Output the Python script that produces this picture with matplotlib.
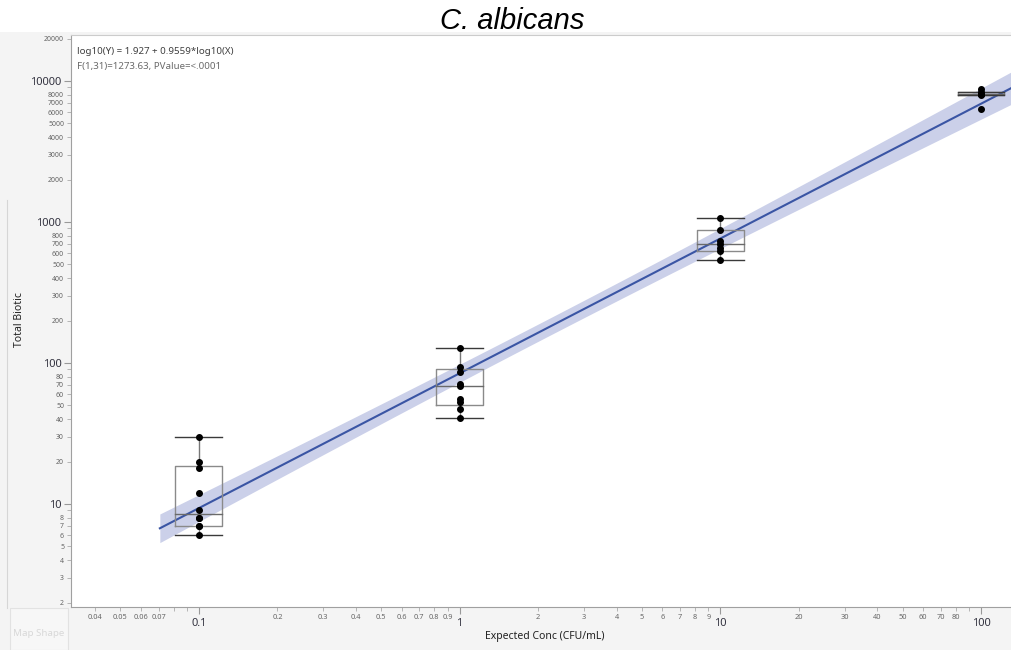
import numpy as np
import matplotlib.pyplot as plt
from matplotlib.ticker import FixedLocator, FuncFormatter
from matplotlib.patches import Rectangle
from matplotlib.lines import Line2D

plt.rcParams['font.family'] = ['Noto Sans', 'DejaVu Sans']

# values
conc = [0.1, 1, 10, 100]
biotic_01 = [6, 7, 7, 8, 8, 9, 12, 18, 20, 30]
biotic_1 = [41, 47, 53, 56, 69, 71, 87, 93, 128]
biotic_10 = [537, 626, 651, 700, 737, 877, 1062]
biotic_100 = [6330, 8000, 8050, 8100, 8150, 8300, 8770]
groups = [biotic_01, biotic_1, biotic_10, biotic_100]

# fit shown in the chart
intercept = 1.927
slope = 0.9559
f_value = 1273.63
t_crit = 2.04
fit_from = 0.0708

x_major = [0.1, 1, 10, 100]
x_minor_lab = [0.04, 0.05, 0.06, 0.07, 0.2, 0.3, 0.4, 0.5, 0.6, 0.7, 0.8, 0.9,
               2, 3, 4, 5, 6, 7, 8, 9, 20, 30, 40, 50, 60, 70, 80]
x_minor_nolab = [0.08, 0.09, 90]
y_major = [10, 100, 1000, 10000]
y_minor_lab = [2, 3, 4, 5, 6, 7, 8, 20, 30, 40, 50, 60, 70, 80,
               200, 300, 400, 500, 600, 700, 800,
               2000, 3000, 4000, 5000, 6000, 7000, 8000, 20000]
y_minor_nolab = [9, 90, 900, 9000]

W, H = 1012, 650
fig = plt.figure(figsize=(W / 100, H / 100), dpi=100, facecolor='#f4f4f4')
fig.patches.append(Rectangle((0, 1 - 32 / H), 1, 32 / H, transform=fig.transFigure,
                             facecolor='white', edgecolor='none', zorder=0))
fig.patches.append(Rectangle((10 / W, 0), 58 / W, 42 / H, transform=fig.transFigure,
                             facecolor='#f7f7f7', edgecolor='#e2e2e2', lw=0.8))
fig.lines.append(Line2D([7 / W, 7 / W], [1 - 200 / H, 1 - 608 / H],
                        transform=fig.transFigure, color='#d6d6d6', lw=0.8))
fig.text(39 / W, 1 - 633 / H, 'Map Shape', fontsize=7, weight='bold', color='#d8d8d8',
         ha='center', va='center')

ax = fig.add_axes([71 / W, 1 - 607 / H, 941 / W, 572 / H])
ax.set_facecolor('white')
ax.set_xscale('log')
ax.set_yscale('log')
ax.set_xlim(0.0323, 131.5)
ax.set_ylim(1.86, 21200)

# confidence band for the fit
all_lx = np.concatenate([np.full(len(g), np.log10(c)) for c, g in zip(conc, groups)])
n = len(all_lx)
xbar = all_lx.mean()
sxx = ((all_lx - xbar) ** 2).sum()
s = np.sqrt(slope ** 2 * sxx / f_value)
fx = np.logspace(np.log10(fit_from), np.log10(140), 200)
flx = np.log10(fx)
fy = intercept + slope * flx
half = t_crit * s * np.sqrt(1 / n + (flx - xbar) ** 2 / sxx)
ax.fill_between(fx, 10 ** (fy - half), 10 ** (fy + half), color='#cbd0e9', lw=0, zorder=1)
ax.plot(fx, 10 ** fy, color='#3a55a4', lw=1.5, zorder=2)

# quantile boxes
hw = 0.09
for c, vals in zip(conc, groups):
    v = np.array(vals, dtype=float)
    q1, med, q3 = np.percentile(v, [25, 50, 75], method='weibull')
    iqr = q3 - q1
    lo = v[v >= q1 - 1.5 * iqr].min()
    hi = v[v <= q3 + 1.5 * iqr].max()
    xl, xr = c * 10 ** -hw, c * 10 ** hw
    ax.plot([c, c], [q3, hi], color='#777777', lw=1, zorder=3)
    ax.plot([c, c], [lo, q1], color='#777777', lw=1, zorder=3)
    ax.plot([xl, xr, xr, xl, xl], [q1, q1, q3, q3, q1], color='#8a8a8a', lw=1, zorder=3)
    ax.plot([xl, xr], [med, med], color='#6a6a6a', lw=1, zorder=3)
    ax.plot([xl, xr], [hi, hi], color='#3a3a3a', lw=1, zorder=3)
    ax.plot([xl, xr], [lo, lo], color='#3a3a3a', lw=1, zorder=3)
    ax.plot([c] * len(v), v, 'o', color='black', ms=4, zorder=4)

# ticks
def fmt(v, pos, labelled):
    return '{:g}'.format(v) if v in labelled else ''

ax.xaxis.set_major_locator(FixedLocator(x_major))
ax.xaxis.set_minor_locator(FixedLocator(x_minor_lab + x_minor_nolab))
ax.xaxis.set_major_formatter(FuncFormatter(lambda v, p: '{:g}'.format(v)))
ax.xaxis.set_minor_formatter(FuncFormatter(lambda v, p: fmt(round(v, 3), p, x_minor_lab)))
ax.yaxis.set_major_locator(FixedLocator(y_major))
ax.yaxis.set_minor_locator(FixedLocator(y_minor_lab + y_minor_nolab))
ax.yaxis.set_major_formatter(FuncFormatter(lambda v, p: '{:g}'.format(v)))
ax.yaxis.set_minor_formatter(FuncFormatter(lambda v, p: fmt(round(v), p, y_minor_lab)))

ax.tick_params(axis='x', which='major', length=5, width=0.8, color='#999999',
               labelsize=8, labelcolor='#333340', pad=3)
ax.tick_params(axis='x', which='minor', length=3, width=0.6, color='#aaaaaa',
               labelsize=5.3, labelcolor='#666666', pad=2)
ax.tick_params(axis='y', which='major', length=5, width=0.8, color='#999999',
               labelsize=8, labelcolor='#333340', pad=2)
ax.tick_params(axis='y', which='minor', length=3, width=0.6, color='#aaaaaa',
               labelsize=5, labelcolor='#666666', pad=2)

for side in ['left', 'bottom']:
    ax.spines[side].set_color('#a0a0a0')
    ax.spines[side].set_linewidth(0.8)
ax.spines['top'].set_color('#cccccc')
ax.spines['top'].set_linewidth(0.8)
ax.spines['right'].set_visible(False)

fig.text(77 / W, 1 - 51 / H, 'log10(Y) = 1.927 + 0.9559*log10(X)', fontsize=7,
         color='#404040', va='center')
fig.text(77 / W, 1 - 67 / H, 'F(1,31)=1273.63, PValue=<.0001', fontsize=7,
         color='#6a6a6a', va='center')

fig.text(512 / W, 1 - 21 / H, 'C. albicans', fontsize=21, style='italic',
         family='Liberation Sans', ha='center', va='center')
fig.text(20 / W, 1 - 320 / H, 'Total Biotic', fontsize=7.5, rotation=90,
         color='#222222', ha='center', va='center')
fig.text(545 / W, 1 - 637 / H, 'Expected Conc (CFU/mL)', fontsize=7.5,
         color='#222222', ha='center', va='center')

fig.savefig('out.png', dpi=100, facecolor=fig.get_facecolor())
